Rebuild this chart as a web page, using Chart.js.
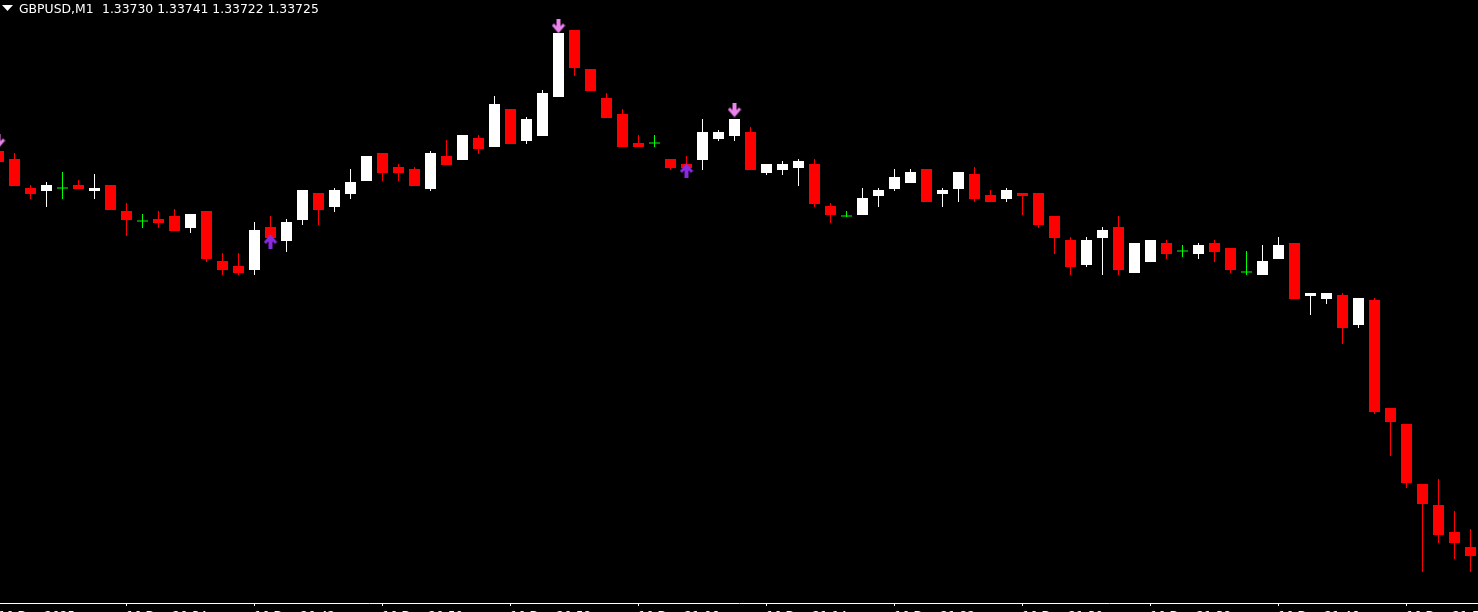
<!DOCTYPE html>
<html><head><meta charset="utf-8">
<script src="https://cdn.jsdelivr.net/npm/chart.js@4.4.0/dist/chart.umd.min.js"></script>
<style>html,body{margin:0;padding:0;background:#000;overflow:hidden}#wrap{position:relative;width:1478px;height:612px}</style>
</head><body><div id="wrap"><canvas id="c"></canvas></div>
<script>
const SYMBOL = "GBPUSD,M1";
const HEADER_PRICES = ["1.33730", "1.33741", "1.33722", "1.33725"];

const BAR_INDEX = [-1,0,1,2,3,4,5,6,7,8,9,10,11,12,13,14,15,16,17,18,19,20,21,22,23,24,25,26,27,28,29,30,31,32,33,34,35,36,37,38,39,40,41,42,43,44,45,46,47,48,49,50,51,52,53,54,55,56,57,58,59,60,61,62,63,64,65,66,67,68,69,70,71,72,73,74,75,76,77,78,79,80,81,82,83,84,85,86,87,88,89,90,91];

const OPEN = [1.339245,1.339205,1.33906,1.339045,1.33906,1.339075,1.339045,1.339075,1.338945,1.338895,1.338905,1.33892,1.33886,1.338945,1.338695,1.33867,1.33865,1.338865,1.338795,1.3389,1.339035,1.338965,1.33903,1.339095,1.339235,1.339165,1.339155,1.339055,1.33922,1.3392,1.33931,1.339265,1.339455,1.339295,1.33932,1.339515,1.33985,1.339655,1.33951,1.33943,1.339285,1.339285,1.339205,1.33918,1.3392,1.339305,1.33932,1.33934,1.339135,1.33915,1.33916,1.33918,1.33897,1.33892,1.338925,1.33902,1.339055,1.339085,1.339155,1.33903,1.339055,1.33913,1.339025,1.339005,1.339035,1.339035,1.33892,1.3388,1.338675,1.33881,1.338865,1.338635,1.33869,1.338785,1.338745,1.33873,1.338785,1.33876,1.33864,1.338625,1.338705,1.338785,1.33852,1.338505,1.338525,1.338375,1.3385,1.33796,1.33788,1.33758,1.337475,1.33734,1.337265];
const HIGH = [1.33926,1.339235,1.339075,1.33909,1.33914,1.3391,1.33913,1.339075,1.338985,1.33893,1.338945,1.338955,1.33893,1.338945,1.338735,1.338735,1.33889,1.33892,1.338905,1.33905,1.339035,1.33906,1.339155,1.33922,1.339235,1.33918,1.339165,1.339245,1.3393,1.339325,1.339325,1.33952,1.339455,1.339415,1.33955,1.339835,1.33985,1.339655,1.339535,1.339455,1.339325,1.339325,1.339205,1.33922,1.339405,1.33935,1.339405,1.339365,1.33918,1.339195,1.339205,1.339205,1.338985,1.338945,1.33906,1.33906,1.339155,1.339155,1.339155,1.33906,1.33914,1.339165,1.33905,1.33906,1.339035,1.339035,1.33892,1.338815,1.338815,1.338865,1.33892,1.338785,1.3388,1.3388,1.338775,1.338785,1.3388,1.33876,1.338745,1.338775,1.338815,1.338785,1.338535,1.338535,1.338535,1.33851,1.33851,1.33796,1.33788,1.33758,1.337605,1.337445,1.337355];
const LOW = [1.33918,1.33907,1.339005,1.338965,1.339005,1.339055,1.339005,1.33895,1.33882,1.33886,1.33886,1.338845,1.338835,1.33869,1.338625,1.338625,1.338625,1.3388,1.33874,1.338875,1.338875,1.33894,1.339005,1.339095,1.339095,1.339095,1.33907,1.339045,1.339175,1.3392,1.33923,1.339265,1.33928,1.33928,1.33932,1.339515,1.33962,1.339545,1.33941,1.339265,1.339265,1.339265,1.33915,1.33915,1.33915,1.339295,1.339295,1.33915,1.339125,1.339125,1.33907,1.338965,1.338885,1.338915,1.338925,1.338965,1.339045,1.339085,1.33899,1.338965,1.33899,1.33899,1.33899,1.33899,1.338925,1.33886,1.33873,1.338625,1.338665,1.338625,1.338625,1.338635,1.33869,1.338705,1.338715,1.338705,1.33869,1.338635,1.338625,1.338625,1.338705,1.338505,1.338425,1.33848,1.33828,1.33836,1.33793,1.33772,1.33756,1.33714,1.337285,1.337205,1.33714];
const CLOSE = [1.33919,1.33907,1.33903,1.339075,1.33906,1.339055,1.33906,1.33895,1.3389,1.338895,1.338885,1.338845,1.33893,1.338705,1.33865,1.338635,1.33885,1.33881,1.33889,1.33905,1.33895,1.33905,1.33909,1.33922,1.339135,1.339135,1.33907,1.339235,1.339175,1.339325,1.339255,1.33948,1.33928,1.339405,1.339535,1.339835,1.33966,1.339545,1.33941,1.339265,1.339265,1.339285,1.33916,1.33916,1.33934,1.33934,1.339405,1.33915,1.33918,1.33918,1.339195,1.33898,1.338925,1.33892,1.33901,1.33905,1.339115,1.33914,1.33899,1.33905,1.33914,1.339005,1.33899,1.33905,1.33902,1.338875,1.33881,1.338665,1.3388,1.33885,1.33865,1.338785,1.3388,1.33873,1.338745,1.338775,1.33874,1.33865,1.33864,1.338695,1.338775,1.338505,1.338535,1.338535,1.33836,1.33851,1.33794,1.33789,1.337585,1.33748,1.337325,1.337285,1.33722];

const ARROW_DOWN_INDEX = [-1, 34, 45];
const ARROW_DOWN_PRICE = [1.339295, 1.33987, 1.33945];
const ARROW_UP_INDEX = [16, 42];
const ARROW_UP_PRICE = [1.3387925, 1.3391475];

const TICK_INDEX = [-1, 7, 15, 23, 31, 39, 47, 55, 63, 71, 79, 87];
const TICK_LABELS = ["10 Dec 2025", "10 Dec 20:34", "10 Dec 20:42", "10 Dec 20:50", "10 Dec 20:58", "10 Dec 21:06", "10 Dec 21:14", "10 Dec 21:22", "10 Dec 21:30", "10 Dec 21:38", "10 Dec 21:46", "10 Dec 21:54"];

const BULL = '#ffffff', BEAR = '#ff0000', DOJI = '#00ff00';
function candleColor(i) {
  if (CLOSE[i] > OPEN[i]) return BULL;
  if (CLOSE[i] < OPEN[i]) return BEAR;
  return DOJI;
}

function makeArrow(color, down) {
  const w = 14, h = 15;
  const cv = document.createElement('canvas');
  cv.width = w; cv.height = h;
  const g = cv.getContext('2d');
  g.save();
  if (!down) { g.translate(0, h); g.scale(1, -1); }
  g.strokeStyle = color; g.fillStyle = color;
  g.fillRect(5, 0, 4, 11);
  g.lineWidth = 3; g.lineJoin = 'miter'; g.lineCap = 'butt';
  g.beginPath(); g.moveTo(1.5, 6); g.lineTo(7, 12.5); g.lineTo(12.5, 6); g.stroke();
  g.restore();
  return cv;
}

const bodies = [], wicks = [], dojis = [];
BAR_INDEX.forEach((k, i) => {
  wicks.push({x: k, y: [LOW[i], HIGH[i]], c: candleColor(i)});
  if (OPEN[i] !== CLOSE[i]) bodies.push({x: k, y: [OPEN[i], CLOSE[i]], c: candleColor(i)});
  else dojis.push({x: k, y: OPEN[i]});
});

const headerPlugin = {
  id: 'header',
  afterDraw(chart) {
    const c = chart.ctx;
    c.save();
    c.fillStyle = '#ffffff';
    c.beginPath(); c.moveTo(2, 5); c.lineTo(13, 5); c.lineTo(7.5, 11); c.closePath(); c.fill();
    c.font = '12.4px "DejaVu Sans"';
    c.textBaseline = 'alphabetic';
    c.textAlign = 'left';
    c.fillText(SYMBOL, 19, 13);
    c.fillText(HEADER_PRICES.join(' '), 102, 13);
    c.restore();
  }
};

new Chart(document.getElementById('c'), {
  type: 'bar',
  data: {
    datasets: [
      { type: 'scatter', data: ARROW_DOWN_INDEX.map((k, i) => ({x: k, y: ARROW_DOWN_PRICE[i]})),
        pointStyle: makeArrow('#ee82ee', true), pointRadius: 7 },
      { type: 'scatter', data: ARROW_UP_INDEX.map((k, i) => ({x: k, y: ARROW_UP_PRICE[i]})),
        pointStyle: makeArrow('#8a2be2', false), pointRadius: 7 },
      { type: 'scatter', data: dojis, pointStyle: 'line', pointRadius: 5.5,
        pointBorderColor: DOJI, pointBorderWidth: 1 },
      { data: bodies, grouped: false, barThickness: 11, inflateAmount: 0, borderWidth: 0,
        backgroundColor: ctx => ctx.raw ? ctx.raw.c : BULL },
      { data: wicks, grouped: false, barThickness: 1, inflateAmount: 0, borderWidth: 0,
        backgroundColor: ctx => ctx.raw ? ctx.raw.c : BULL }
    ]
  },
  options: {
    responsive: true, maintainAspectRatio: false, animation: false, devicePixelRatio: 1,
    events: [],
    layout: { padding: 0, autoPadding: false },
    plugins: { legend: { display: false }, tooltip: { enabled: false }, title: { display: false } },
    scales: {
      x: {
        type: 'linear', min: -0.90625, max: 91.46875, offset: false,
        grid: { offset: false, drawOnChartArea: false, drawTicks: true, tickLength: 3, color: '#ffffff' },
        border: { display: true, color: '#ffffff', width: 1 },
        afterBuildTicks: s => { s.ticks = TICK_INDEX.map(v => ({value: v})); },
        afterFit: s => { s.height = 9; s.paddingLeft = 0; s.paddingRight = 0; },
        ticks: { autoSkip: false, maxRotation: 0, minRotation: 0, align: 'start', padding: 4,
          color: '#ffffff', font: { family: 'DejaVu Sans', size: 12 },
          callback: (v, idx) => TICK_LABELS[idx] }
      },
      y: { display: false, min: 1.336985, max: 1.34 }
    }
  },
  plugins: [headerPlugin]
});
</script>
</body></html>
